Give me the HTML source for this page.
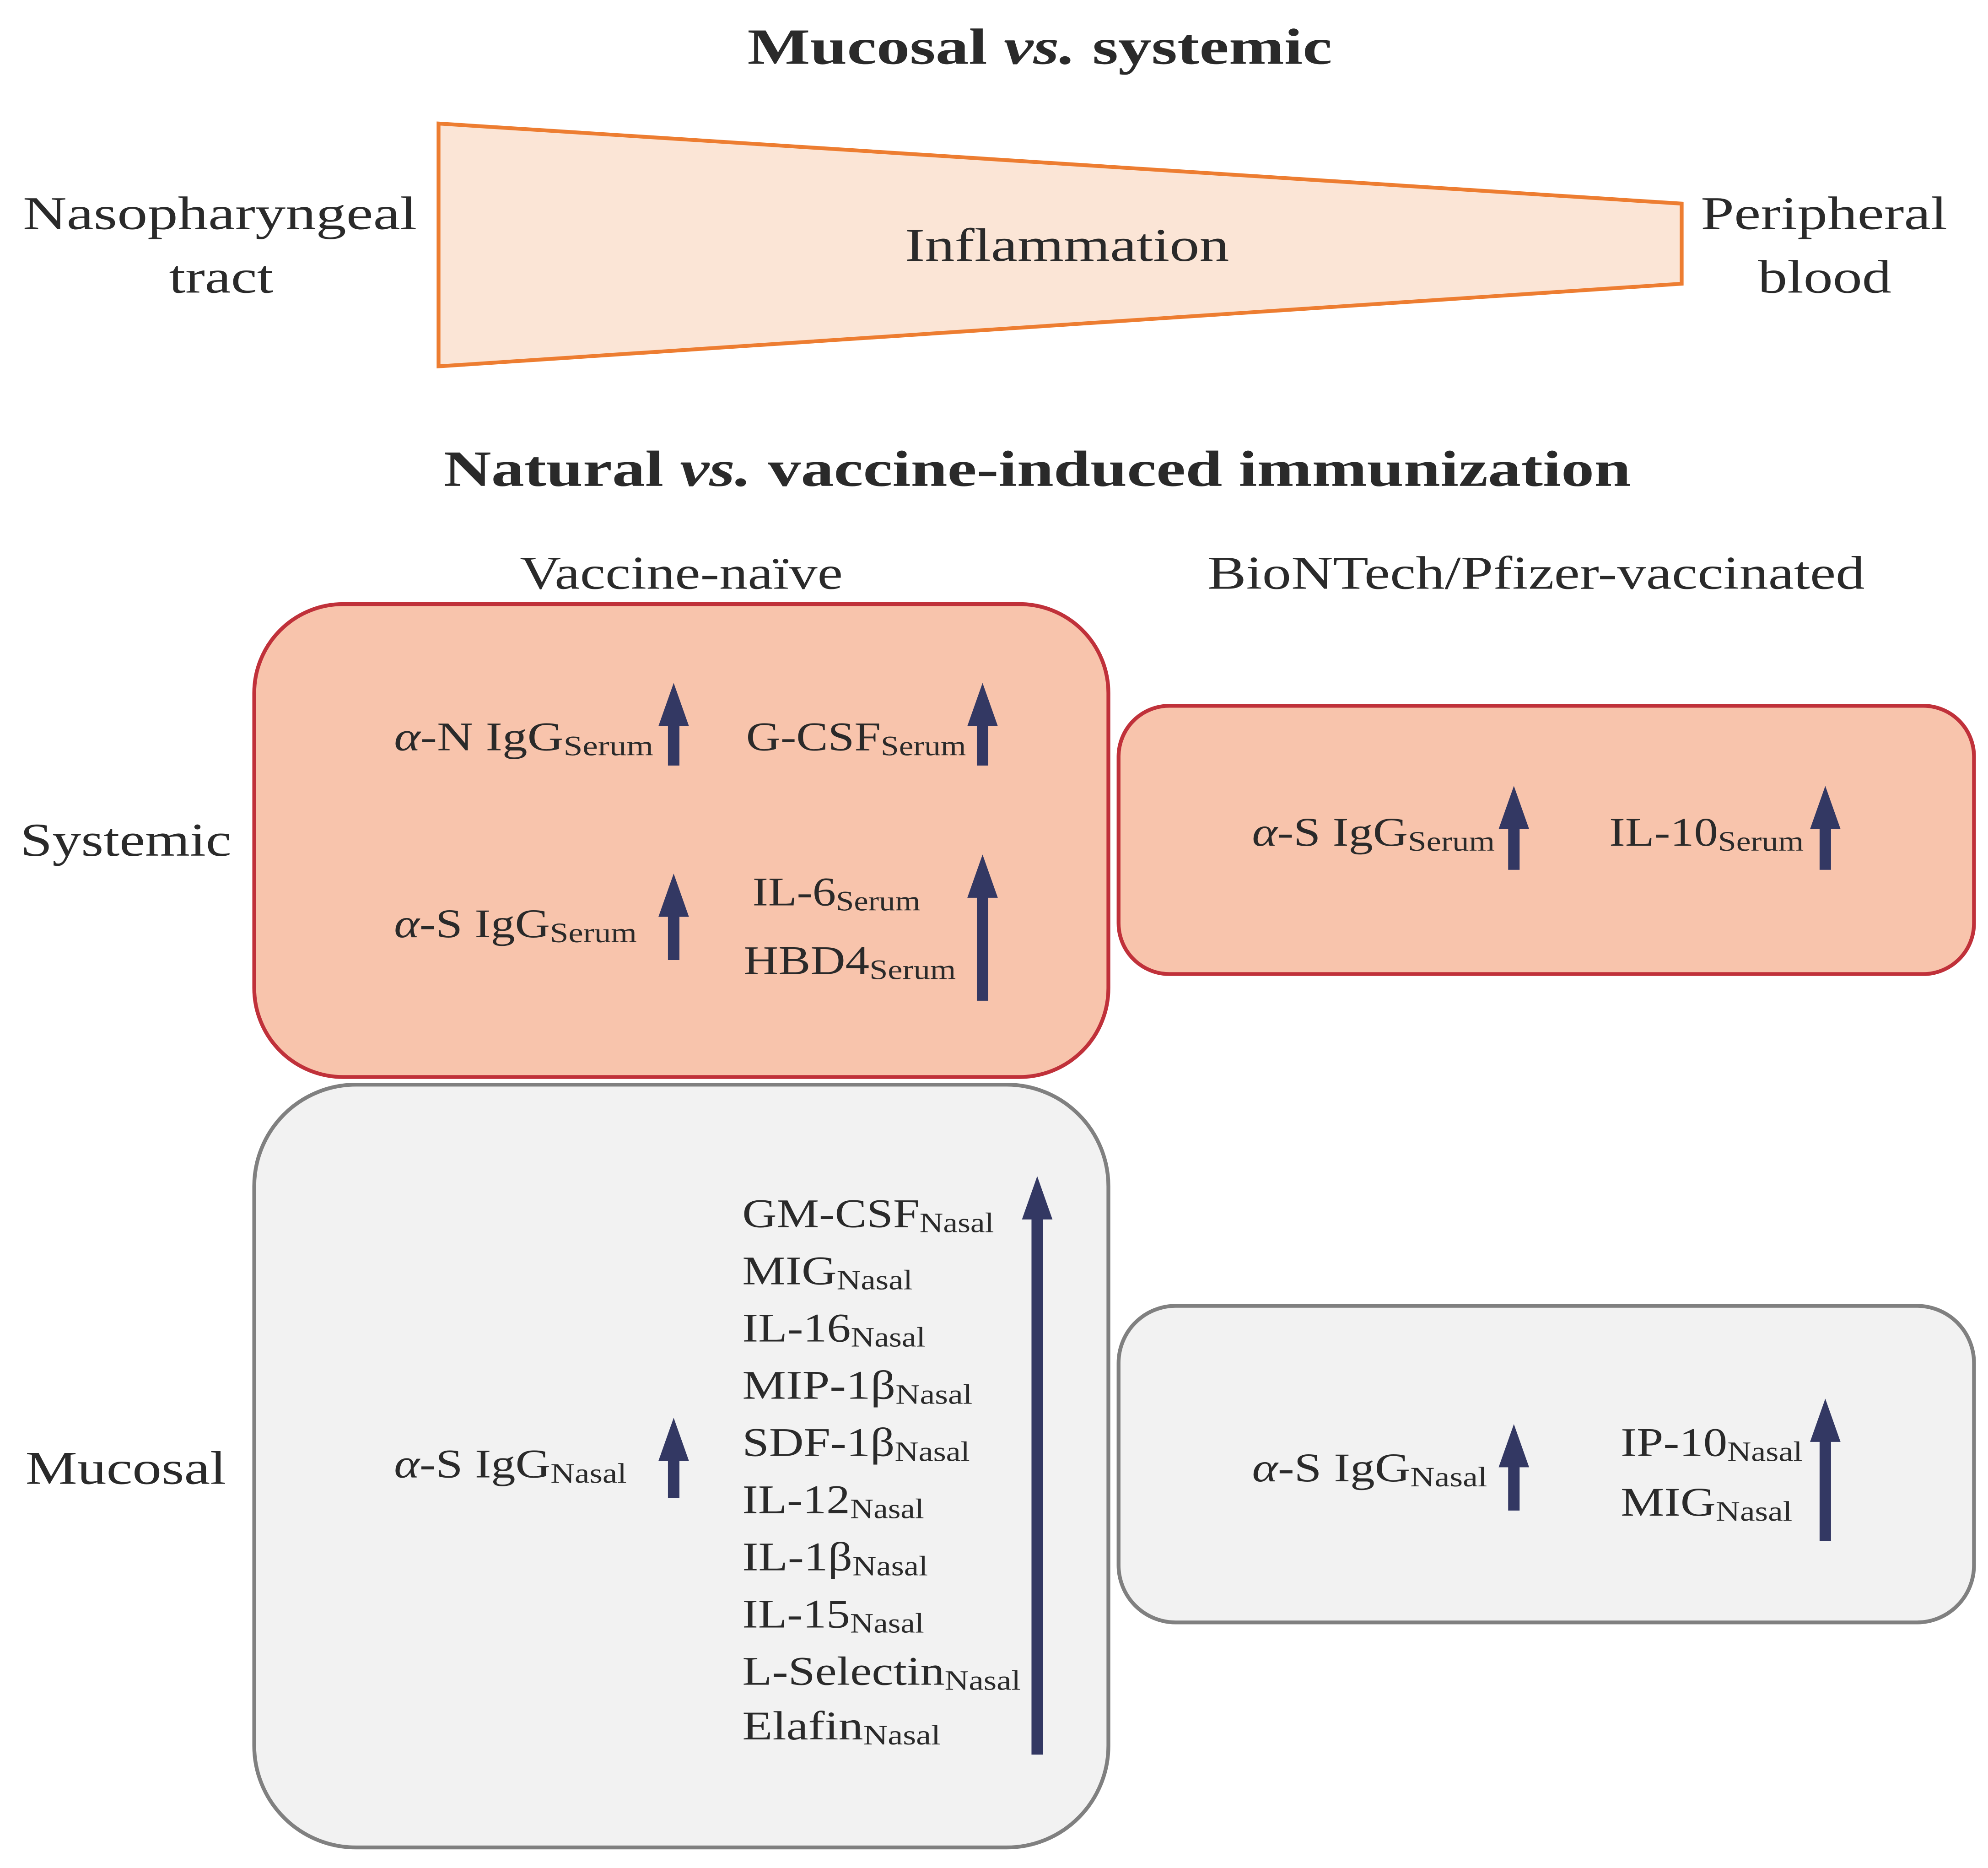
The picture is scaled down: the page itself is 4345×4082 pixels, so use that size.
<!DOCTYPE html>
<html><head><meta charset="utf-8"><style>html,body{margin:0;padding:0;background:#fff}svg{display:block}</style></head>
<body>
<svg width="4345" height="4082" viewBox="0 0 1564 1469" xmlns="http://www.w3.org/2000/svg" font-family="'Liberation Serif', 'DejaVu Serif', serif" fill="#2a2a2a">
<text x="588" y="50" font-size="40" font-weight="bold" textLength="460" lengthAdjust="spacingAndGlyphs">Mucosal <tspan font-style="italic">vs.</tspan> systemic</text>
<polygon points="345,97 1323,160 1323,223 345,288" fill="#FBE5D6" stroke="#ED7D31" stroke-width="3"/>
<text x="712" y="205" font-size="37" textLength="255" lengthAdjust="spacingAndGlyphs">Inflammation</text>
<text x="18" y="180" font-size="37" textLength="310" lengthAdjust="spacingAndGlyphs">Nasopharyngeal</text>
<text x="133" y="230" font-size="37" textLength="82" lengthAdjust="spacingAndGlyphs">tract</text>
<text x="1338" y="180" font-size="37" textLength="194" lengthAdjust="spacingAndGlyphs">Peripheral</text>
<text x="1383" y="230" font-size="37" textLength="105" lengthAdjust="spacingAndGlyphs">blood</text>
<text x="349" y="382" font-size="40" font-weight="bold" textLength="934" lengthAdjust="spacingAndGlyphs">Natural <tspan font-style="italic">vs.</tspan> vaccine-induced immunization</text>
<text x="409" y="463" font-size="37" textLength="254" lengthAdjust="spacingAndGlyphs">Vaccine-naïve</text>
<text x="950" y="463" font-size="37" textLength="517" lengthAdjust="spacingAndGlyphs">BioNTech/Pfizer-vaccinated</text>
<text x="16" y="673" font-size="37" textLength="166" lengthAdjust="spacingAndGlyphs">Systemic</text>
<text x="20" y="1167" font-size="37" textLength="158" lengthAdjust="spacingAndGlyphs">Mucosal</text>

<rect x="200" y="475" width="672" height="372" rx="70" fill="#F8C4AC" stroke="#C0313A" stroke-width="3"/>
<rect x="880" y="555" width="673" height="211" rx="40" fill="#F8C4AC" stroke="#C0313A" stroke-width="3"/>
<rect x="200" y="853" width="672" height="600" rx="80" fill="#F2F2F2" stroke="#808080" stroke-width="3"/>
<rect x="880" y="1027" width="673" height="249" rx="45" fill="#F2F2F2" stroke="#808080" stroke-width="3"/>

<g font-size="32" lengthAdjust="spacingAndGlyphs">
<text x="310" y="590" textLength="204" lengthAdjust="spacingAndGlyphs"><tspan font-style="italic">α</tspan>-N IgG<tspan font-size="22" dy="4">Serum</tspan></text>
<text x="587" y="590" textLength="173" lengthAdjust="spacingAndGlyphs">G-CSF<tspan font-size="22" dy="4">Serum</tspan></text>
<text x="310" y="737" textLength="191" lengthAdjust="spacingAndGlyphs"><tspan font-style="italic">α</tspan>-S IgG<tspan font-size="22" dy="4">Serum</tspan></text>
<text x="592" y="712" textLength="132" lengthAdjust="spacingAndGlyphs">IL-6<tspan font-size="22" dy="4">Serum</tspan></text>
<text x="585" y="766" textLength="167" lengthAdjust="spacingAndGlyphs">HBD4<tspan font-size="22" dy="4">Serum</tspan></text>
<text x="985" y="665" textLength="191" lengthAdjust="spacingAndGlyphs"><tspan font-style="italic">α</tspan>-S IgG<tspan font-size="22" dy="4">Serum</tspan></text>
<text x="1266" y="665" textLength="153" lengthAdjust="spacingAndGlyphs">IL-10<tspan font-size="22" dy="4">Serum</tspan></text>
<text x="310" y="1162" textLength="183" lengthAdjust="spacingAndGlyphs"><tspan font-style="italic">α</tspan>-S IgG<tspan font-size="22" dy="4">Nasal</tspan></text>
<text x="985" y="1165" textLength="185" lengthAdjust="spacingAndGlyphs"><tspan font-style="italic">α</tspan>-S IgG<tspan font-size="22" dy="4">Nasal</tspan></text>
<text x="1275" y="1145" textLength="143" lengthAdjust="spacingAndGlyphs">IP-10<tspan font-size="22" dy="4">Nasal</tspan></text>
<text x="1275" y="1192" textLength="135" lengthAdjust="spacingAndGlyphs">MIG<tspan font-size="22" dy="4">Nasal</tspan></text>
<text x="584" y="965" textLength="198" lengthAdjust="spacingAndGlyphs">GM-CSF<tspan font-size="22" dy="4">Nasal</tspan></text>
<text x="584" y="1010" textLength="134" lengthAdjust="spacingAndGlyphs">MIG<tspan font-size="22" dy="4">Nasal</tspan></text>
<text x="584" y="1055" textLength="144" lengthAdjust="spacingAndGlyphs">IL-16<tspan font-size="22" dy="4">Nasal</tspan></text>
<text x="584" y="1100" textLength="181" lengthAdjust="spacingAndGlyphs">MIP-1β<tspan font-size="22" dy="4">Nasal</tspan></text>
<text x="584" y="1145" textLength="179" lengthAdjust="spacingAndGlyphs">SDF-1β<tspan font-size="22" dy="4">Nasal</tspan></text>
<text x="584" y="1190" textLength="143" lengthAdjust="spacingAndGlyphs">IL-12<tspan font-size="22" dy="4">Nasal</tspan></text>
<text x="584" y="1235" textLength="146" lengthAdjust="spacingAndGlyphs">IL-1β<tspan font-size="22" dy="4">Nasal</tspan></text>
<text x="584" y="1280" textLength="143" lengthAdjust="spacingAndGlyphs">IL-15<tspan font-size="22" dy="4">Nasal</tspan></text>
<text x="584" y="1325" textLength="219" lengthAdjust="spacingAndGlyphs">L-Selectin<tspan font-size="22" dy="4">Nasal</tspan></text>
<text x="584" y="1368" textLength="156" lengthAdjust="spacingAndGlyphs">Elafin<tspan font-size="22" dy="4">Nasal</tspan></text>
</g>

<g fill="#333863">
<polygon points="530,537 542,571 534.5,571 534.5,602 525.5,602 525.5,571 518,571"/>
<polygon points="773,537 785,571 777.5,571 777.5,602 768.5,602 768.5,571 761,571"/>
<polygon points="530,687 542,721 534.5,721 534.5,755 525.5,755 525.5,721 518,721"/>
<polygon points="773,672 785,706 777.5,706 777.5,787 768.5,787 768.5,706 761,706"/>
<polygon points="1191,618 1203,652 1195.5,652 1195.5,684 1186.5,684 1186.5,652 1179,652"/>
<polygon points="1436,618 1448,652 1440.5,652 1440.5,684 1431.5,684 1431.5,652 1424,652"/>
<polygon points="530,1115 542,1149 534.5,1149 534.5,1178 525.5,1178 525.5,1149 518,1149"/>
<polygon points="816,925 828,959 820.5,959 820.5,1380 811.5,1380 811.5,959 804,959"/>
<polygon points="1191,1120 1203,1154 1195.5,1154 1195.5,1188 1186.5,1188 1186.5,1154 1179,1154"/>
<polygon points="1436,1100 1448,1134 1440.5,1134 1440.5,1212 1431.5,1212 1431.5,1134 1424,1134"/>
</g>
</svg>
</body></html>
